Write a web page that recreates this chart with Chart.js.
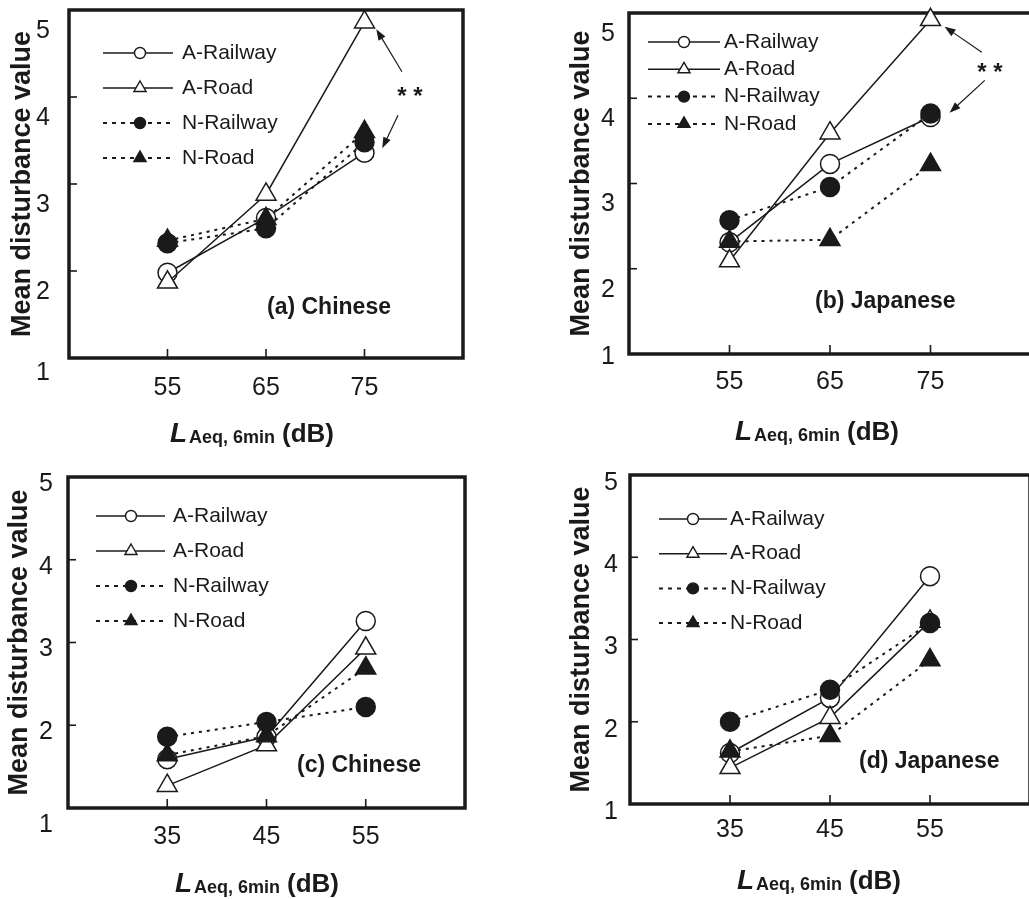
<!DOCTYPE html>
<html>
<head>
<meta charset="utf-8">
<script src="https://cdn.jsdelivr.net/npm/chart.js@4.4.0/dist/chart.umd.min.js"></script>
<style>
  html, body { margin: 0; padding: 0; background: #fff; overflow: hidden; width: 1029px; height: 899px; }
  canvas { position: absolute; display: block; }
</style>
</head>
<body>
<canvas id="chartA" width="480" height="450" style="left:0px;top:0px;width:480px;height:450px"></canvas>
<canvas id="chartB" width="540" height="450" style="left:500px;top:0px;width:540px;height:450px"></canvas>
<canvas id="chartC" width="480" height="449" style="left:0px;top:450px;width:480px;height:449px"></canvas>
<canvas id="chartD" width="540" height="449" style="left:500px;top:450px;width:540px;height:449px"></canvas>
<script>
// series and levels
var seriesNames = ["A-Railway", "A-Road", "N-Railway", "N-Road"];
var levelsHigh = [55, 65, 75]; // (a), (b)
var levelsLow = [35, 45, 55];  // (c), (d)
var yTicks = [1, 2, 3, 4, 5];

// (a) Chinese, high levels
var chHighARailway = [1.98, 2.61, 3.36];
var chHighARoad = [1.87, 2.88, 4.86];
var chHighNRailway = [2.32, 2.49, 3.48];
var chHighNRoad = [2.35, 2.6, 3.6];

// (b) Japanese, high levels
var jpHighARailway = [2.31, 3.23, 3.78];
var jpHighARoad = [2.09, 3.59, 4.92];
var jpHighNRailway = [2.57, 2.96, 3.82];
var jpHighNRoad = [2.32, 2.34, 3.22];

// (c) Chinese, low levels
var chLowARailway = [1.59, 1.86, 3.26];
var chLowARoad = [1.27, 1.76, 2.93];
var chLowNRailway = [1.86, 2.04, 2.22];
var chLowNRoad = [1.64, 1.87, 2.69];

// (d) Japanese, low levels
var jpLowARailway = [1.62, 2.29, 3.77];
var jpLowARoad = [1.44, 2.05, 3.22];
var jpLowNRailway = [2.0, 2.39, 3.2];
var jpLowNRoad = [1.64, 1.83, 2.75];

// "**" marks with arrows, in data units: star [x, y], arrows [x0, y0, x1, y1]
var starA = [79.6, 4.03];
var arrowsA = [[78.8, 4.29, 76.2, 4.78], [78.4, 3.79, 76.8, 3.41]];
var starB = [80.9, 4.33];
var arrowsB = [[80.1, 4.54, 76.4, 4.84], [80.4, 4.21, 76.9, 3.83]];

var INK = "#1a1a1a";
var FAMILY = "'Liberation Sans', Arial, Helvetica, sans-serif";

// box round the plot and the inner tick marks
var framePlugin = {
  id: "frame",
  beforeDatasetsDraw: function (chart) {
    var ctx = chart.ctx, a = chart.chartArea;
    var xs = chart.scales.x, ys = chart.scales.y;
    ctx.save();
    ctx.strokeStyle = INK;
    ctx.lineWidth = 1.6;
    ys.ticks.forEach(function (t) {
      var py = ys.getPixelForValue(t.value);
      if (py > a.top + 3 && py < a.bottom - 3) {
        ctx.beginPath();
        ctx.moveTo(a.left, py);
        ctx.lineTo(a.left + 8, py);
        ctx.stroke();
      }
    });
    xs.ticks.forEach(function (t) {
      var px = xs.getPixelForValue(t.value);
      ctx.beginPath();
      ctx.moveTo(px, a.bottom);
      ctx.lineTo(px, a.bottom - 9);
      ctx.stroke();
    });
    ctx.lineWidth = 3.5;
    ctx.strokeRect(a.left, a.top, a.right - a.left, a.bottom - a.top);
    ctx.restore();
  }
};

function marker(ctx, style, x, y, r, filled) {
  ctx.beginPath();
  if (style === "circle") {
    ctx.arc(x, y, r, 0, Math.PI * 2);
  } else {
    ctx.moveTo(x, y - r);
    ctx.lineTo(x + r * 0.866, y + r / 2);
    ctx.lineTo(x - r * 0.866, y + r / 2);
    ctx.closePath();
  }
  ctx.fillStyle = filled ? INK : "#fff";
  ctx.fill();
  ctx.lineWidth = 1.4;
  ctx.strokeStyle = INK;
  ctx.stroke();
}

function arrow(ctx, x0, y0, x1, y1) {
  var ang = Math.atan2(y1 - y0, x1 - x0);
  var len = 11, wid = 4;
  ctx.beginPath();
  ctx.moveTo(x0, y0);
  ctx.lineTo(x1 - Math.cos(ang) * len * 0.8, y1 - Math.sin(ang) * len * 0.8);
  ctx.lineWidth = 1.2;
  ctx.stroke();
  ctx.beginPath();
  ctx.moveTo(x1, y1);
  ctx.lineTo(x1 - Math.cos(ang) * len - Math.sin(ang) * wid, y1 - Math.sin(ang) * len + Math.cos(ang) * wid);
  ctx.lineTo(x1 - Math.cos(ang) * len + Math.sin(ang) * wid, y1 - Math.sin(ang) * len - Math.cos(ang) * wid);
  ctx.closePath();
  ctx.fill();
}

// legend, panel label, x title and ** notes
var notesPlugin = {
  id: "notes",
  afterDraw: function (chart, args, o) {
    var ctx = chart.ctx, a = chart.chartArea;
    var xs = chart.scales.x, ys = chart.scales.y;
    ctx.save();
    ctx.strokeStyle = INK;
    ctx.fillStyle = INK;

    // legend
    var lg = o.legend;
    seriesNames.forEach(function (name, i) {
      var y = a.top + lg.y0 + i * lg.dy;
      ctx.beginPath();
      ctx.setLineDash(i < 2 ? [] : [4, 5]);
      ctx.lineWidth = i < 2 ? 1.4 : 2;
      ctx.moveTo(a.left + lg.x0, y);
      ctx.lineTo(a.left + lg.x1, y);
      ctx.stroke();
      ctx.setLineDash([]);
      marker(ctx, i % 2 === 0 ? "circle" : "triangle", a.left + lg.xm, y, i % 2 === 0 ? 5.5 : 7, i >= 2);
      ctx.fillStyle = INK;
      ctx.font = "21px " + FAMILY;
      ctx.textAlign = "left";
      ctx.textBaseline = "middle";
      ctx.fillText(name, a.left + lg.xt, y);
    });

    // panel label
    ctx.font = "bold 23px " + FAMILY;
    ctx.textAlign = "left";
    ctx.textBaseline = "middle";
    ctx.fillText(o.panelLabel, a.left + o.labelPos[0], a.top + o.labelPos[1]);

    // x axis title: L with subscript Aeq, 6min, then (dB)
    var tx = a.left + o.titlePos[0], ty = a.bottom + o.titlePos[1];
    ctx.textBaseline = "alphabetic";
    ctx.font = "italic bold 28px " + FAMILY;
    ctx.fillText("L", tx, ty);
    tx += 19;
    ctx.font = "bold 18px " + FAMILY;
    ctx.fillText("Aeq, 6min", tx, ty + 1);
    tx += ctx.measureText("Aeq, 6min").width + 7;
    ctx.font = "bold 26px " + FAMILY;
    ctx.fillText("(dB)", tx, ty);

    // ** with arrows
    if (o.star) {
      var sx = xs.getPixelForValue(o.star[0]), sy = ys.getPixelForValue(o.star[1]);
      ctx.font = "bold 24px " + FAMILY;
      ctx.textAlign = "center";
      ctx.textBaseline = "alphabetic";
      ctx.fillText("*", sx - 8, sy + 10);
      ctx.fillText("*", sx + 8, sy + 10);
      o.arrows.forEach(function (r) {
        arrow(ctx, xs.getPixelForValue(r[0]), ys.getPixelForValue(r[1]),
          xs.getPixelForValue(r[2]), ys.getPixelForValue(r[3]));
      });
    }
    ctx.restore();
  }
};

function makePanel(id, levels, values, p) {
  var datasets = seriesNames.map(function (name, i) {
    var isA = i < 2;
    var isCircle = i % 2 === 0;
    return {
      label: name,
      data: levels.map(function (x, j) { return { x: x, y: values[i][j] }; }),
      borderColor: INK,
      borderWidth: isA ? 1.5 : 2,
      borderDash: isA ? [] : [3, 5],
      pointStyle: isCircle ? "circle" : "triangle",
      pointRadius: isCircle ? 9.5 : 11.5,
      pointBackgroundColor: isA ? "#fff" : INK,
      pointBorderColor: INK,
      pointBorderWidth: 1.5,
      tension: 0,
      clip: false,
      order: 4 - i
    };
  });

  // the printed "1" label sits off the common offset; a two-line label
  // with a tuned line height moves it by lowShift pixels
  var lowShift = p.lowShift;

  new Chart(document.getElementById(id), {
    type: "line",
    data: { datasets: datasets },
    options: {
      responsive: false,
      animation: false,
      events: [],
      layout: {
        autoPadding: false,
        padding: { left: p.padLeft, top: p.padTop, right: p.padRight, bottom: 0 }
      },
      plugins: {
        legend: { display: false },
        tooltip: { enabled: false },
        notes: p.notes
      },
      scales: {
        x: {
          type: "linear",
          min: p.xMin,
          max: p.xMax,
          afterBuildTicks: function (s) {
            s.ticks = levels.map(function (v) { return { value: v }; });
          },
          afterFit: function (s) {
            s.height = p.xHeight;
            s.paddingLeft = 0;
            s.paddingRight = 0;
          },
          grid: { display: false, drawTicks: false },
          border: { display: false },
          ticks: { color: INK, font: { family: FAMILY, size: 25 }, padding: p.xTickPad }
        },
        y: {
          min: 1,
          max: 5,
          afterBuildTicks: function (s) {
            s.ticks = yTicks.map(function (v) { return { value: v }; });
          },
          afterFit: function (s) {
            s.width = p.yWidth;
            s.paddingTop = 0;
            s.paddingBottom = 0;
          },
          grid: { display: false, drawTicks: false },
          border: { display: false },
          ticks: {
            color: INK,
            padding: p.yTickPad,
            labelOffset: p.labelOffset,
            font: function (c) {
              var lh = 1.2;
              if (c && c.tick && c.tick.value === 1 && lowShift !== 0) {
                lh = (2 * Math.abs(lowShift)) / 25;
              }
              return { family: FAMILY, size: 25, lineHeight: lh };
            },
            callback: function (v) {
              if (v === 1 && lowShift < 0) return ["1", ""];
              if (v === 1 && lowShift > 0) return ["", "1"];
              return String(v);
            }
          },
          title: {
            display: true,
            text: "Mean disturbance value",
            color: INK,
            font: { family: FAMILY, size: 27, weight: "bold" },
            padding: { top: p.yTitlePad, bottom: 0 }
          }
        }
      }
    },
    plugins: [framePlugin, notesPlugin]
  });
}

makePanel("chartA", levelsHigh,
  [chHighARailway, chHighARoad, chHighNRailway, chHighNRoad], {
    xMin: 45, xMax: 85, padLeft: 0, padTop: 10, padRight: 17, yWidth: 69, xHeight: 92,
    xTickPad: 15, yTickPad: 19, labelOffset: 21, lowShift: -6, yTitlePad: 6.8,
    notes: {
      legend: { x0: 34, x1: 104, xm: 71, xt: 113, y0: 43, dy: 35 },
      panelLabel: "(a) Chinese", labelPos: [198, 298], titlePos: [101, 84],
      star: starA, arrows: arrowsA
    }
  });

makePanel("chartB", levelsHigh,
  [jpHighARailway, jpHighARoad, jpHighNRailway, jpHighNRoad], {
    xMin: 45, xMax: 85, padLeft: 60, padTop: 13, padRight: 9, yWidth: 69, xHeight: 96,
    xTickPad: 13, yTickPad: 14, labelOffset: 21, lowShift: -18, yTitlePad: 5.8,
    notes: {
      legend: { x0: 19, x1: 91, xm: 55, xt: 95, y0: 29, dy: 27.3 },
      panelLabel: "(b) Japanese", labelPos: [186, 289], titlePos: [106, 86],
      star: starB, arrows: arrowsB
    }
  });

makePanel("chartC", levelsLow,
  [chLowARailway, chLowARoad, chLowNRailway, chLowNRoad], {
    xMin: 25, xMax: 65, padLeft: 0, padTop: 27, padRight: 15, yWidth: 68, xHeight: 91,
    xTickPad: 14, yTickPad: 15, labelOffset: 7, lowShift: 10, yTitlePad: 3.8,
    notes: {
      legend: { x0: 28, x1: 97, xm: 63, xt: 105, y0: 39, dy: 35 },
      panelLabel: "(c) Chinese", labelPos: [229, 289], titlePos: [107, 84]
    }
  });

makePanel("chartD", levelsLow,
  [jpLowARailway, jpLowARoad, jpLowNRailway, jpLowNRoad], {
    xMin: 25, xMax: 65, padLeft: 61, padTop: 25, padRight: 10, yWidth: 69, xHeight: 95,
    xTickPad: 11, yTickPad: 12, labelOffset: 8, lowShift: 0, yTitlePad: 4.8,
    notes: {
      legend: { x0: 29, x1: 97, xm: 63, xt: 100, y0: 44, dy: 34.7 },
      panelLabel: "(d) Japanese", labelPos: [229, 287], titlePos: [107, 85]
    }
  });
</script>
</body>
</html>
